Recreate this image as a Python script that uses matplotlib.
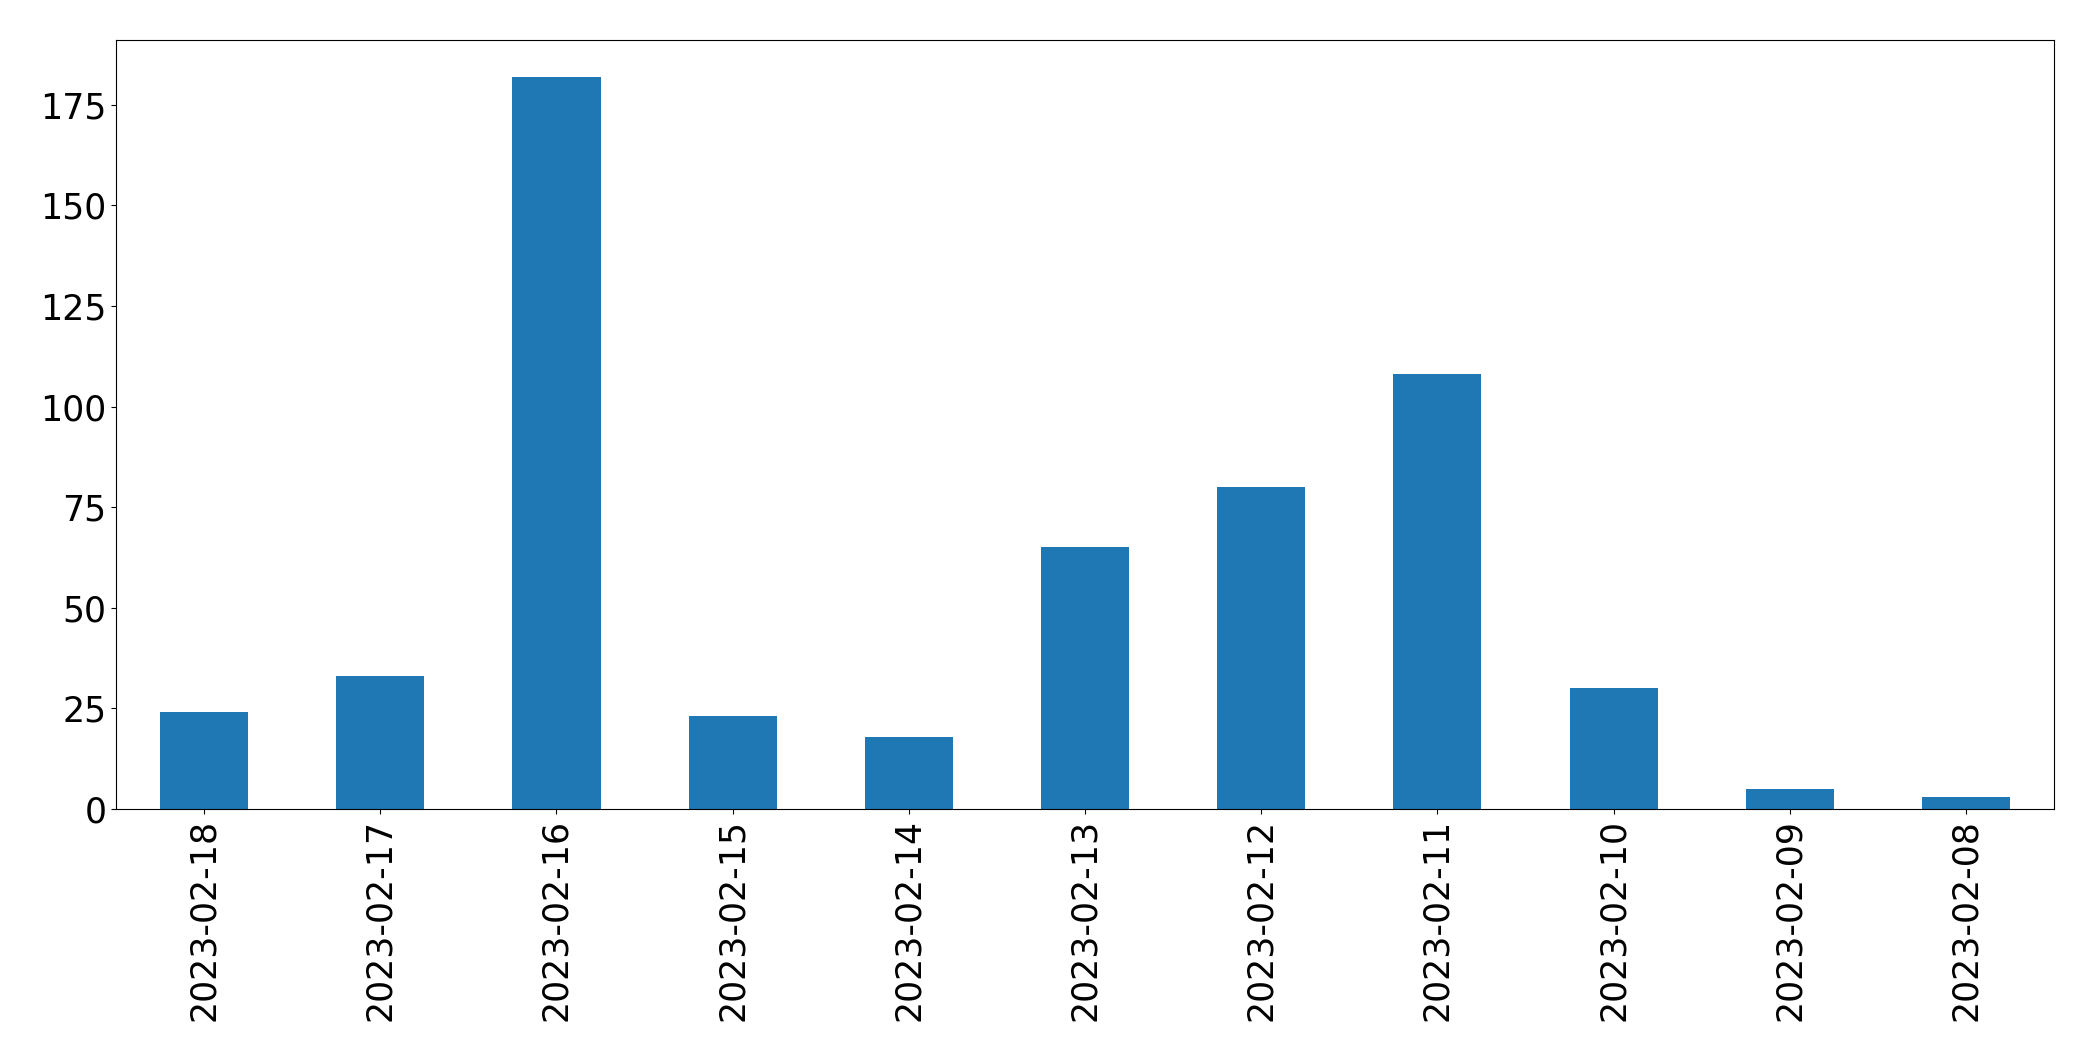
import matplotlib
matplotlib.use("Agg")
import matplotlib.pyplot as plt

dates = ["2023-02-18", "2023-02-17", "2023-02-16", "2023-02-15", "2023-02-14",
         "2023-02-13", "2023-02-12", "2023-02-11", "2023-02-10", "2023-02-09", "2023-02-08"]
counts = [24, 33, 182, 23, 18, 65, 80, 108, 30, 5, 3]

fig = plt.figure(figsize=(20.93, 10.61), dpi=100)
ax = fig.add_axes([116/2093, 1 - 809/1061, (2054-116)/2093, (809-40)/1061])
x = list(range(len(dates)))
ax.bar(x, counts, width=0.5, color="#1f77b4")
ax.set_xlim(-0.5, len(dates) - 0.5)
ax.set_xticks(x)
ax.set_xticklabels(dates, rotation=90)
ax.tick_params(axis="both", labelsize=25)
fig.savefig("out.png", dpi=100)
